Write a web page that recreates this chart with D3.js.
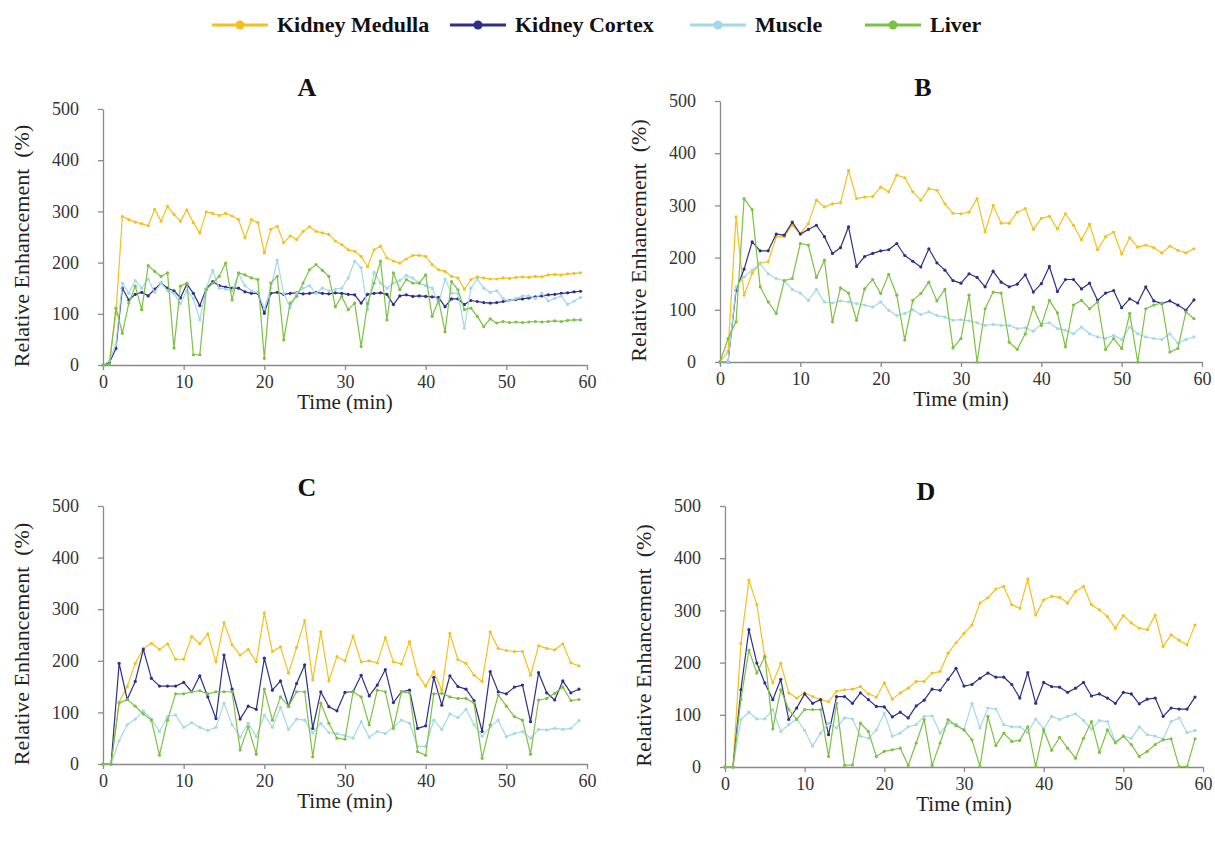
<!DOCTYPE html>
<html>
<head>
<meta charset="utf-8">
<script src="https://cdn.jsdelivr.net/npm/d3@7"></script>
<style>
  body { margin: 0; background: #fff; }
  svg { display: block; font-family: "Liberation Serif", "Times New Roman", serif; }
  .axis path, .axis line { stroke: #8a8a8a; stroke-width: 1.3; }
  .axis text { fill: #333; font-size: 18px; font-family: "Liberation Serif", serif; }
</style>
</head>
<body>
<svg id="chart" width="1215" height="841"></svg>
<script>
// series names / colours (legend order)
var seriesNames = ['Kidney Medulla', 'Kidney Cortex', 'Muscle', 'Liver'];
var seriesColors = ['#f4c020', '#2d2f88', '#a3d8e9', '#7cc143'];
var yTicks = [0, 100, 200, 300, 400, 500];
var xTicks = [0, 10, 20, 30, 40, 50, 60];
var panelLabels = ['A', 'B', 'C', 'D'];
var sampleMinutes = [0.8, 1, 1, 1];   // time between samples per panel

// panel A (sampled every 0.8 min)
var medullaA = [0, 5, 100, 290, 284, 279, 276, 272, 304, 281,
  310, 294, 281, 303, 278, 258, 299, 296, 292, 296,
  291, 284, 248, 284, 278, 219, 265, 271, 239, 252,
  245, 261, 270, 261, 258, 255, 242, 235, 225, 222,
  212, 192, 225, 232, 209, 203, 199, 207, 214, 214,
  212, 196, 186, 183, 173, 170, 148, 167, 172, 170,
  168, 168, 170, 169, 171, 172, 171, 173, 172, 176,
  177, 176, 178, 179, 180];
var cortexA = [0, 5, 32, 150, 127, 138, 142, 135, 148, 160,
  150, 145, 131, 158, 140, 116, 149, 163, 155, 152,
  150, 150, 143, 140, 140, 101, 140, 142, 138, 140,
  141, 139, 140, 142, 140, 139, 141, 140, 138, 137,
  121, 138, 140, 141, 138, 118, 135, 137, 134, 135,
  134, 133, 132, 114, 129, 129, 118, 126, 124, 122,
  121, 122, 124, 126, 128, 129, 131, 133, 135, 137,
  138, 140, 141, 143, 144];
var muscleA = [0, 8, 40, 160, 140, 165, 150, 168, 142, 160,
  145, 140, 120, 145, 130, 88, 150, 185, 150, 148,
  145, 178, 155, 145, 142, 110, 150, 205, 140, 112,
  140, 150, 155, 140, 150, 145, 148, 150, 170, 203,
  190, 108, 181, 160, 150, 160, 165, 175, 170, 160,
  155, 150, 120, 168, 140, 140, 72, 150, 168, 150,
  142, 145, 130, 125, 130, 135, 135, 130, 140, 125,
  130, 135, 118, 125, 132];
var liverA = [0, 2, 111, 62, 121, 154, 108, 194, 183, 173,
  180, 33, 154, 160, 20, 20, 147, 160, 173, 199,
  127, 180, 176, 170, 167, 13, 160, 173, 49, 121,
  134, 160, 186, 196, 185, 173, 114, 134, 108, 121,
  36, 120, 160, 203, 88, 180, 147, 167, 160, 160,
  176, 95, 127, 65, 163, 147, 108, 111, 95, 75,
  90, 82, 85, 83, 84, 83, 84, 85, 84, 85,
  86, 85, 87, 88, 88];

// panel B (every minute, 0-59)
var medullaB = [0, 20, 278, 128, 170, 190, 192, 240, 240, 262,
  246, 265, 310, 297, 303, 305, 367, 313, 316, 317,
  335, 326, 358, 353, 326, 310, 332, 329, 303, 285,
  284, 287, 313, 249, 300, 266, 266, 287, 294, 254,
  275, 279, 255, 284, 262, 234, 264, 215, 240, 249,
  207, 238, 220, 224, 219, 209, 222, 214, 209, 217];
var cortexB = [0, 0, 137, 178, 230, 213, 213, 245, 243, 268,
  245, 254, 262, 240, 208, 219, 259, 183, 202, 208,
  213, 215, 227, 204, 193, 182, 217, 190, 176, 156,
  151, 169, 162, 144, 174, 153, 144, 149, 167, 134,
  150, 183, 135, 158, 158, 140, 151, 118, 132, 137,
  104, 121, 113, 144, 117, 112, 117, 109, 99, 119];
var muscleB = [0, 0, 144, 163, 176, 188, 169, 160, 156, 139,
  132, 118, 139, 115, 113, 117, 115, 112, 109, 105,
  115, 99, 89, 93, 100, 91, 96, 89, 86, 80,
  81, 79, 75, 70, 72, 70, 70, 64, 66, 59,
  73, 75, 64, 61, 54, 67, 54, 48, 45, 51,
  43, 67, 54, 48, 45, 43, 54, 36, 43, 48];
var liverB = [0, 45, 77, 313, 292, 144, 115, 93, 156, 160,
  227, 224, 162, 195, 77, 142, 132, 80, 140, 158,
  131, 168, 128, 42, 118, 131, 153, 117, 139, 27,
  45, 128, 0, 102, 134, 132, 38, 24, 54, 105,
  70, 118, 94, 29, 109, 118, 102, 115, 24, 45,
  26, 93, 0, 102, 109, 113, 19, 26, 96, 83];

// panel C
var medullaC = [0, 0, 120, 150, 195, 224, 234, 222, 233, 203,
  203, 247, 233, 252, 198, 274, 231, 211, 222, 198,
  293, 218, 227, 176, 226, 278, 163, 256, 161, 208,
  200, 248, 198, 200, 196, 245, 198, 194, 237, 174,
  151, 179, 143, 253, 202, 195, 172, 160, 256, 224,
  220, 218, 218, 172, 229, 224, 221, 233, 196, 190];
var cortexC = [0, 0, 195, 125, 160, 222, 166, 151, 151, 151,
  158, 140, 171, 130, 88, 211, 145, 87, 112, 106,
  205, 143, 161, 112, 156, 192, 69, 140, 111, 103,
  139, 140, 172, 132, 153, 183, 119, 140, 143, 69,
  74, 168, 114, 171, 150, 145, 123, 63, 179, 140,
  136, 149, 153, 82, 177, 138, 124, 161, 138, 145];
var muscleC = [0, 0, 45, 76, 87, 103, 87, 63, 92, 95,
  71, 80, 71, 65, 71, 118, 76, 52, 79, 53,
  95, 71, 110, 67, 87, 85, 60, 79, 61, 59,
  55, 50, 82, 52, 63, 59, 71, 85, 79, 34,
  34, 85, 67, 97, 90, 106, 76, 54, 72, 85,
  53, 59, 63, 50, 67, 66, 69, 67, 69, 84];
var liverC = [0, 0, 118, 125, 112, 97, 85, 17, 85, 136,
  136, 140, 142, 136, 140, 140, 140, 27, 72, 19,
  145, 85, 130, 112, 140, 140, 14, 118, 79, 50,
  48, 140, 130, 76, 143, 140, 69, 140, 138, 24,
  17, 136, 137, 130, 127, 127, 118, 11, 76, 134,
  112, 92, 85, 19, 124, 127, 137, 149, 123, 125];

// panel D
var medullaD = [0, 0, 237, 358, 311, 210, 161, 199, 142, 132,
  142, 135, 129, 125, 145, 148, 149, 154, 140, 134,
  161, 130, 142, 151, 164, 164, 180, 183, 218, 238,
  256, 272, 314, 324, 341, 346, 311, 304, 360, 291,
  320, 327, 325, 314, 336, 346, 311, 301, 288, 266,
  290, 276, 266, 263, 291, 231, 253, 243, 234, 272];
var cortexD = [0, 0, 148, 263, 199, 161, 129, 168, 91, 113,
  140, 122, 129, 62, 135, 135, 122, 142, 129, 116,
  115, 96, 105, 94, 117, 128, 149, 147, 168, 189,
  155, 158, 170, 180, 172, 172, 158, 132, 181, 122,
  162, 154, 153, 143, 151, 162, 136, 140, 132, 122,
  143, 140, 121, 130, 132, 97, 113, 111, 111, 134];
var muscleD = [0, 0, 91, 105, 92, 92, 110, 68, 81, 92,
  70, 40, 65, 84, 75, 94, 92, 59, 55, 71,
  103, 59, 65, 77, 81, 97, 98, 65, 84, 82,
  71, 122, 75, 113, 111, 81, 77, 77, 66, 92,
  73, 97, 91, 97, 102, 89, 73, 89, 87, 49,
  59, 55, 77, 62, 59, 54, 87, 94, 66, 70];
var liverD = [0, 0, 130, 224, 180, 212, 73, 148, 110, 91,
  110, 110, 110, 20, 122, 3, 4, 84, 68, 20,
  30, 33, 36, 3, 46, 91, 3, 46, 91, 79,
  71, 52, 1, 97, 41, 65, 49, 51, 77, 1,
  71, 32, 57, 36, 17, 55, 87, 28, 71, 46,
  59, 43, 20, 30, 43, 52, 54, 1, 1, 54];

var panelSeries = [
  [medullaA, cortexA, muscleA, liverA],
  [medullaB, cortexB, muscleB, liverB],
  [medullaC, cortexC, muscleC, liverC],
  [medullaD, cortexD, muscleD, liverD]
];

// plot boxes in page pixels, plus baseline of each panel letter
var boxes = [
  {left: 103, right: 587, top: 109, bottom: 365, titleY: 96},
  {left: 720, right: 1202, top: 101, bottom: 362, titleY: 96},
  {left: 103, right: 587, top: 506, bottom: 764, titleY: 496},
  {left: 725, right: 1203, top: 506, bottom: 767, titleY: 500}
];

var svg = d3.select('#chart');

panelLabels.forEach(function(label, p) {
  var b = boxes[p];
  var x = d3.scaleLinear().domain([0, 60]).range([b.left, b.right]);
  var y = d3.scaleLinear().domain([0, 500]).range([b.bottom, b.top]);
  var g = svg.append('g');

  g.append('g').attr('class', 'axis')
    .attr('transform', 'translate(0,' + b.bottom + ')')
    .call(d3.axisBottom(x).tickValues(xTicks).tickSize(5).tickSizeOuter(0).tickPadding(5));
  g.append('g').attr('class', 'axis')
    .attr('transform', 'translate(' + b.left + ',0)')
    .call(d3.axisLeft(y).tickValues(yTicks).tickSize(5).tickSizeOuter(0).tickPadding(19));

  g.append('text')
    .attr('x', (b.left + b.right) / 2 - 38).attr('y', b.titleY)
    .attr('text-anchor', 'middle').attr('font-weight', 'bold')
    .attr('font-size', 26).attr('fill', '#111').text(label);

  g.append('text')
    .attr('x', (b.left + b.right) / 2).attr('y', b.bottom + 44)
    .attr('text-anchor', 'middle').attr('font-size', 21).attr('fill', '#222')
    .text('Time (min)');

  g.append('text')
    .attr('transform', 'translate(' + (b.left - 74) + ',' + ((b.top + b.bottom) / 2 + 9) + ') rotate(-90)')
    .attr('text-anchor', 'middle').attr('font-size', 22).attr('fill', '#222')
    .style('white-space', 'pre')
    .text('Relative Enhancement  (%)');

  var step = sampleMinutes[p];
  var line = d3.line()
    .x(function(d, i) { return x(i * step); })
    .y(function(d) { return y(d); });

  panelSeries[p].forEach(function(values, s) {
    g.append('path').datum(values)
      .attr('d', line)
      .attr('fill', 'none')
      .attr('stroke', seriesColors[s])
      .attr('stroke-width', 1.2)
      .attr('stroke-linejoin', 'round');
    g.selectAll('circle.s' + s).data(values).enter().append('circle')
      .attr('class', 's' + s)
      .attr('cx', function(d, i) { return x(i * step); })
      .attr('cy', function(d) { return y(d); })
      .attr('r', 1.6)
      .attr('fill', seriesColors[s]);
  });
});

// legend
var legendX = [212, 450, 690, 865];
var legend = svg.append('g').attr('transform', 'translate(0,25)');
seriesNames.forEach(function(name, s) {
  var lx = legendX[s];
  legend.append('line').attr('x1', lx).attr('x2', lx + 56).attr('y1', 0).attr('y2', 0)
    .attr('stroke', seriesColors[s]).attr('stroke-width', 3);
  legend.append('circle').attr('cx', lx + 28).attr('cy', 0).attr('r', 4.5)
    .attr('fill', seriesColors[s]);
  legend.append('text').attr('x', lx + 65).attr('y', 7)
    .attr('font-size', 22).attr('font-weight', 'bold').attr('fill', '#111')
    .text(name);
});
</script>
</body>
</html>
